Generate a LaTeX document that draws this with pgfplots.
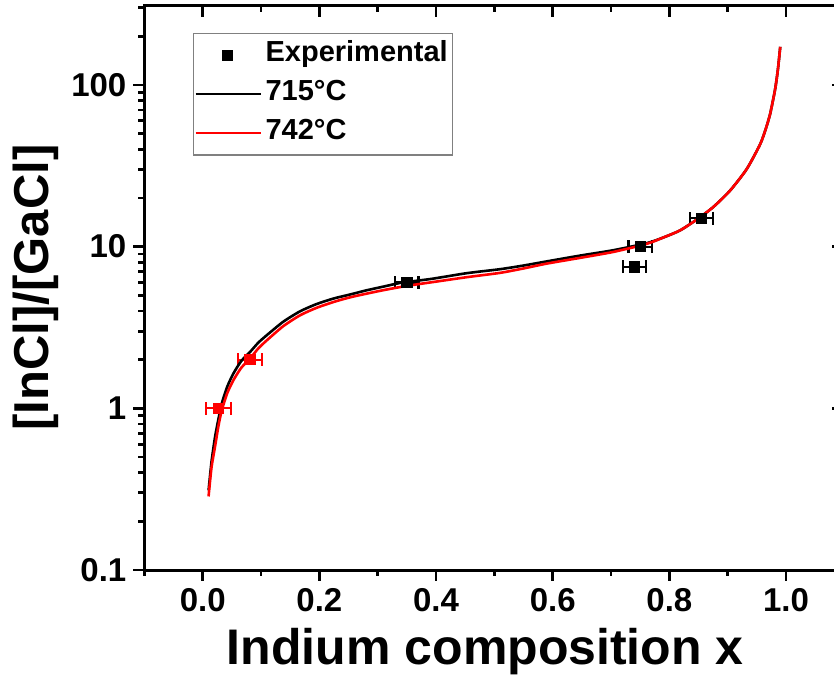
\documentclass[border=0pt]{standalone}
\usepackage{fontspec}
\setmainfont{Liberation Sans}
\usepackage{pgfplots}
\pgfplotsset{compat=1.18}
\usepackage{pgfplotstable}

\pgfplotstableread{
x ex y
0.350 0.020 6.0
0.740 0.020 7.5
0.750 0.020 10.0
0.855 0.020 15.0
}\expblack
\pgfplotstableread{
x ex y
0.027 0.021 1.0
0.081 0.021 2.0
}\expred

\pgfplotstableread{
x y
0.0100 0.310
0.0150 0.465
0.0211 0.665
0.0270 0.860
0.0326 1.07
0.0420 1.36
0.0525 1.64
0.0660 1.96
0.0811 2.23
0.0950 2.54
0.1097 2.83
0.1380 3.43
0.1668 3.98
0.1950 4.41
0.2239 4.77
0.2520 5.05
0.2812 5.37
0.3100 5.66
0.3382 5.96
0.3670 6.15
0.3953 6.34
0.4526 6.85
0.5097 7.25
0.5500 7.64
0.5897 8.10
0.6470 8.80
0.7039 9.50
0.7612 10.50
0.7900 11.40
0.8183 12.60
0.8470 14.70
0.8754 17.60
0.9040 22.20
0.9326 30.20
0.9555 42.90
0.9650 53.2
0.9726 66.0
0.9811 93.4
0.9860 124.6
0.9900 172
}\blackcurve

\pgfplotstableread{
x y
0.0100 0.285
0.0150 0.430
0.0211 0.580
0.0270 0.780
0.0326 0.970
0.0420 1.24
0.0525 1.49
0.0660 1.78
0.0811 2.03
0.0950 2.34
0.1097 2.63
0.1380 3.22
0.1668 3.76
0.1950 4.18
0.2239 4.54
0.2520 4.85
0.2812 5.12
0.3100 5.38
0.3382 5.62
0.3670 5.84
0.3953 6.04
0.4526 6.47
0.5097 6.88
0.5500 7.33
0.5897 7.85
0.6470 8.52
0.7039 9.27
0.7612 10.40
0.7900 11.40
0.8183 12.60
0.8470 14.70
0.8754 17.60
0.9040 22.20
0.9326 30.20
0.9555 42.90
0.9650 53.2
0.9726 66.0
0.9811 93.4
0.9860 124.6
0.9900 172
}\redcurve

\begin{document}
\begin{tikzpicture}
\path[use as bounding box] (-72.2pt,-65pt) rectangle (344.8pt,285pt);
\clip (-72.2pt,-65pt) rectangle (344.8pt,285pt);
\begin{axis}[
  at={(0pt,0pt)}, anchor=south west,
  scale only axis, width=350pt, height=282.5pt,
  xmin=-0.1, xmax=1.1,
  ymode=log, ymin=0.1, ymax=312,
  axis line style={line width=1.5pt},
  tick align=outside,
  xtick pos=left, ytick pos=left,
  xtick={0,0.2,0.4,0.6,0.8,1.0},
  minor xtick={-0.1,0.1,0.3,0.5,0.7,0.9,1.1},
  ytick={0.1,1,10,100},
  minor ytick={0.2,0.3,0.4,0.5,0.6,0.7,0.8,0.9,2,3,4,5,6,7,8,9,20,30,40,50,60,70,80,90,200,300},
  log ticks with fixed point,
  major tick length=5.5pt, minor tick length=3pt,
  every tick/.style={line width=1.4pt, black},
  /pgf/number format/assume math mode=true,
  ticklabel style={font=\bfseries\fontsize{16.5}{19}\selectfont},
  xticklabel style={/pgf/number format/.cd, fixed, fixed zerofill, precision=1},
  xlabel={Indium composition x},
  ylabel={[InCl]/[GaCl]},
  label style={font=\bfseries\fontsize{24.5}{28}\selectfont},
  xlabel style={font=\bfseries\fontsize{25}{28}\selectfont, at={(axis description cs:0.487,-0.1664)}, anchor=base},
  ylabel style={at={(axis description cs:-0.1377,0.5)}, anchor=base},
  legend style={at={(0.0694,0.9504)}, anchor=north west, draw=gray, line width=0.6pt,
    font=\bfseries\fontsize{14.5}{17}\selectfont, inner xsep=0.5pt, inner ysep=4.5pt,
    row sep=6.5pt, column sep=0pt,
    cells={anchor=west, inner xsep=1.2pt, inner ysep=1.5pt, text height=0.74em, text depth=0.24em}},
  legend cell align=left,
]
\addplot[only marks, mark=square*, mark size=2.6pt, black,
  legend image code/.code={\fill[black] (13.5pt,-2.5pt) rectangle (18.5pt,2.5pt);
     \path[draw=none, fill=none] (0pt,-0.1pt) rectangle (32.5pt,0.1pt);},
  error bars/.cd, x dir=both, x explicit,
  error bar style={line width=1.1pt, black},
  error mark options={rotate=90, mark size=3.2pt, line width=1.1pt, black}]
  table[x=x, y=y, x error=ex] {\expblack};
\addlegendentry{Experimental}
\addplot[only marks, mark=square*, mark size=2.6pt, red, forget plot,
  error bars/.cd, x dir=both, x explicit,
  error bar style={line width=1.1pt, red},
  error mark options={rotate=90, mark size=3.2pt, line width=1.1pt, red}]
  table[x=x, y=y, x error=ex] {\expred};
\addplot[black, line width=1.3pt, smooth, tension=0.4,
  legend image code/.code={\draw[black, line width=1pt] (0pt,0pt) -- (32.5pt,0pt);}]
  table[x=x, y=y] {\blackcurve};
\addlegendentry{715°C}
\addplot[red, line width=1.3pt, smooth, tension=0.4,
  legend image code/.code={\draw[red, line width=1pt] (0pt,0pt) -- (32.5pt,0pt);}]
  table[x=x, y=y] {\redcurve};
\addlegendentry{742°C}
\end{axis}
\begin{axis}[
  at={(0pt,0pt)}, anchor=south west,
  scale only axis, width=350pt, height=282.5pt,
  xmin=-0.1, xmax=1.1,
  ymode=log, ymin=0.1, ymax=312,
  axis line style={line width=1.5pt},
  tick align=inside,
  xtick pos=right, ytick pos=right,
  xtick={0,0.2,0.4,0.6,0.8,1.0},
  minor xtick={-0.1,0.1,0.3,0.5,0.7,0.9,1.1},
  ytick={0.1,1,10,100},
  major tick length=6pt, minor tick length=3.5pt,
  every tick/.style={line width=1.4pt, black},
  xticklabels={}, yticklabels={},
]
\end{axis}
\end{tikzpicture}
\end{document}
